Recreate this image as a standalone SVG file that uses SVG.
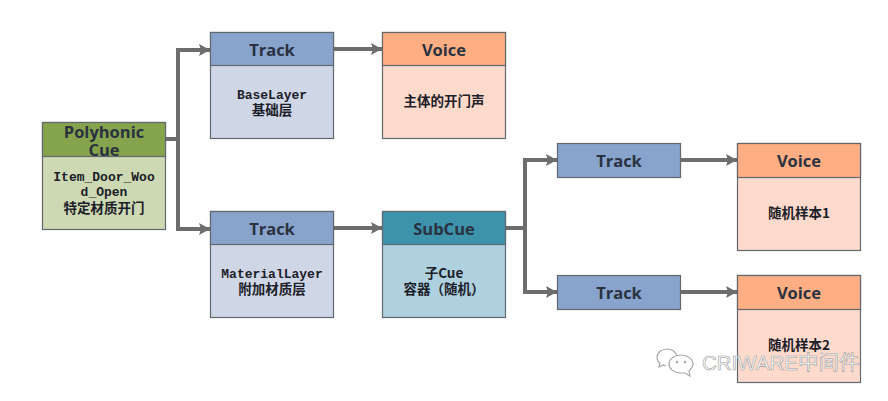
<svg xmlns="http://www.w3.org/2000/svg" width="888" height="401" viewBox="0 0 888 401">
<defs>
<marker id="arr" markerUnits="userSpaceOnUse" markerWidth="12" markerHeight="14" refX="11" refY="7" orient="auto"><path d="M0 1L11 7L0 13L2 7Z" fill="#6d6d6d"/></marker>
</defs>
<style>
.b{stroke:#62686e;stroke-width:1.2}
.h{font:bold 16.500px "Open Sans","Noto Sans","Noto Sans CJK SC",sans-serif;fill:#2a3240;text-anchor:middle}
.t{font:bold 13px "Liberation Mono","Noto Sans CJK SC",monospace;fill:#1c2028;text-anchor:middle}
.c{font:bold 13.500px "Noto Sans CJK SC",sans-serif;fill:#1c2028;text-anchor:middle}
.l{fill:none;stroke:#6d6d6d;stroke-width:4;marker-end:url(#arr)}
.w{font:20.500px "Liberation Sans","Noto Sans CJK SC",sans-serif;fill:#fff;stroke:#9a9a9a;stroke-width:.6}
</style>
<rect width="888" height="401" fill="#fff"/>
<g id="connectors">
<path class="l" d="M166 139H178V50H210"/>
<path class="l" d="M166 139H178V229H210"/>
<path class="l" d="M334 49H382"/>
<path class="l" d="M334 228H382"/>
<path class="l" d="M506 228H525V160H557"/>
<path class="l" d="M506 228H525V292H557"/>
<path class="l" d="M681 160H737"/>
<path class="l" d="M681 292H737"/>
</g>
<g id="polyphonic">
<rect class="b" x="42.500" y="122.500" width="123" height="107" fill="#ccd9b3"/>
<rect class="b" x="42.500" y="122.500" width="123" height="34" fill="#86a34e"/>
<text class="h" x="104" y="138">Polyhonic</text><text class="h" x="104" y="156">Cue</text>
<text class="t" x="104" y="181">Item_Door_Woo</text><text class="t" x="104" y="196">d_Open</text><text class="c" x="104" y="213">特定材质开门</text>
</g>
<g id="track-base">
<rect class="b" x="210.500" y="32.500" width="123" height="106" fill="#cfd7e7"/>
<rect class="b" x="210.500" y="32.500" width="123" height="33" fill="#88a3cc"/>
<text class="h" x="272" y="56">Track</text>
<text class="t" x="272" y="99">BaseLayer</text><text class="c" x="272" y="115">基础层</text>
</g>
<g id="voice-main">
<rect class="b" x="382.500" y="32.500" width="123" height="106" fill="#fddacb"/>
<rect class="b" x="382.500" y="32.500" width="123" height="33" fill="#fdae82"/>
<text class="h" x="444" y="56">Voice</text>
<text class="c" x="444" y="106">主体的开门声</text>
</g>
<g id="track-material">
<rect class="b" x="210.500" y="211.500" width="123" height="106" fill="#cfd7e7"/>
<rect class="b" x="210.500" y="211.500" width="123" height="33" fill="#88a3cc"/>
<text class="h" x="272" y="235">Track</text>
<text class="t" x="272" y="278">MaterialLayer</text><text class="c" x="272" y="294">附加材质层</text>
</g>
<g id="subcue">
<rect class="b" x="382.500" y="211.500" width="123" height="106" fill="#aed0df"/>
<rect class="b" x="382.500" y="211.500" width="123" height="33" fill="#3c93ab"/>
<text class="h" x="444" y="235">SubCue</text>
<text class="c" x="444" y="278">子Cue</text><text class="c" x="444" y="294">容器（随机）</text>
</g>
<g id="track-1">
<rect class="b" x="557.500" y="143.500" width="123" height="34" fill="#88a3cc"/>
<text class="h" x="619" y="167">Track</text>
</g>
<g id="track-2">
<rect class="b" x="557.500" y="275.500" width="123" height="34" fill="#88a3cc"/>
<text class="h" x="619" y="299">Track</text>
</g>
<g id="voice-1">
<rect class="b" x="737.500" y="143.500" width="123" height="107" fill="#fddacb"/>
<rect class="b" x="737.500" y="143.500" width="123" height="34" fill="#fdae82"/>
<text class="h" x="799" y="167">Voice</text>
<text class="c" x="799" y="218">随机样本1</text>
</g>
<g id="voice-2">
<rect class="b" x="737.500" y="275.500" width="123" height="107" fill="#fddacb"/>
<rect class="b" x="737.500" y="275.500" width="123" height="34" fill="#fdae82"/>
<text class="h" x="799" y="299">Voice</text>
<text class="c" x="799" y="350">随机样本2</text>
</g>
<g id="watermark">
<path d="M667 349c-6 0-10 4-10 8 0 3 1 5 3 6l-1 4 4-2 3 1" fill="#fff" stroke="#a8a8a8" stroke-width="1.200"/>
<path d="M667 349c5 0 9 3 10 7" fill="none" stroke="#a8a8a8" stroke-width="1.200"/>
<path d="M681 355c-7 0-12 4-12 9 0 5 5 9 12 9l4 0 5 3-1-5c2-2 4-4 4-7 0-5-5-9-12-9Z" fill="#fff" stroke="#a8a8a8" stroke-width="1.200"/>
<circle cx="677" cy="362" r="1.300" fill="#a8a8a8"/><circle cx="685" cy="362" r="1.300" fill="#a8a8a8"/>
<text class="w" x="702" y="370">CRIWARE中间件</text>
</g>
</svg>
